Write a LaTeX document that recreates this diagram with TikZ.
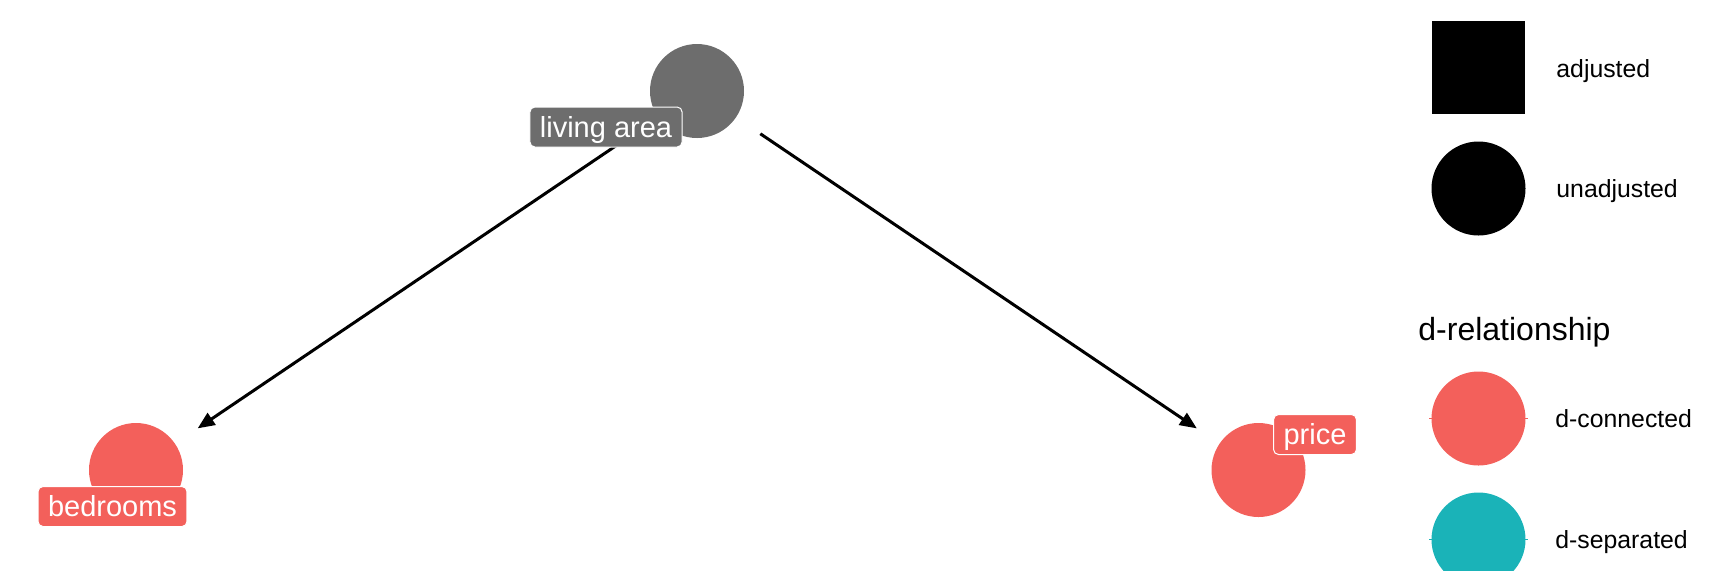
\documentclass[tikz,border=0pt]{standalone}
\usepackage{fontspec}
\setmainfont{Liberation Sans}
\usetikzlibrary{arrows.meta}
\definecolor{dconn}{HTML}{F3605B}
\definecolor{dsep}{HTML}{1AB3B8}
\definecolor{unadj}{HTML}{6D6D6D}
\begin{document}
\begin{tikzpicture}[x=0.5pt,y=-0.5pt,
  dagnode/.style={circle, inner sep=0pt, minimum size=47pt},
  daglabel/.style={rounded corners=2.5pt, draw=white, line width=0.5pt, text=white,
    font=\fontsize{14.5}{17}\selectfont, inner xsep=5pt, inner ysep=0pt,
    minimum height=20pt, text height=10.4pt, text depth=0pt},
  dagedge/.style={-{Triangle[length=8.5pt,width=7pt]}, line width=1.5pt,
    shorten <=14.5pt, shorten >=13.5pt},
  legtext/.style={anchor=west, inner sep=0pt, font=\fontsize{12.4}{15}\selectfont,
    text height=8.9pt, text depth=0pt},
  legnub/.style={line width=0.8pt}]
\useasboundingbox (0,0) rectangle (1728,570);
\clip (0,0) rectangle (1728,570);
% nodes
\node[dagnode, fill=unadj] (la) at (697,91) {};
\node[dagnode, fill=dconn] (bed) at (136,470) {};
\node[dagnode, fill=dconn] (pr) at (1258.5,470) {};
% edges
\draw[dagedge] (la) -- (bed);
\draw[dagedge] (la) -- (pr);
% labels
\node[daglabel, fill=unadj] (lalab) at (606,127) {living area};
\node[daglabel, fill=dconn] (bedlab) at (112.5,506.5) {bedrooms};
\node[daglabel, fill=dconn] (prlab) at (1315,434.5) {price};
% legend
\node[fill=black, inner sep=0pt, minimum size=46.5pt] (legsq) at (1478.5,67.5) {};
\node[legtext] (legadj) at (1556,69) {adjusted};
\node[dagnode, fill=black] (legci) at (1478.5,188.5) {};
\node[legtext] (legunadj) at (1556,189) {unadjusted};
\node[anchor=base west, inner sep=0pt, font=\fontsize{16}{19}\selectfont] (legtitle) at (1418,340) {d-relationship};
\node[dagnode, fill=dconn] (legcon) at (1478.5,418.5) {};
\draw[legnub, dconn] ([xshift=-1pt]legcon.west) -- ([xshift=1pt]legcon.east);
\node[legtext] (legcontext) at (1555,419) {d-connected};
\node[dagnode, fill=dsep] (legsep) at (1478.5,539.5) {};
\draw[legnub, dsep] ([xshift=-1pt]legsep.west) -- ([xshift=1pt]legsep.east);
\node[legtext] (legseptext) at (1555,540) {d-separated};
\end{tikzpicture}
\end{document}
